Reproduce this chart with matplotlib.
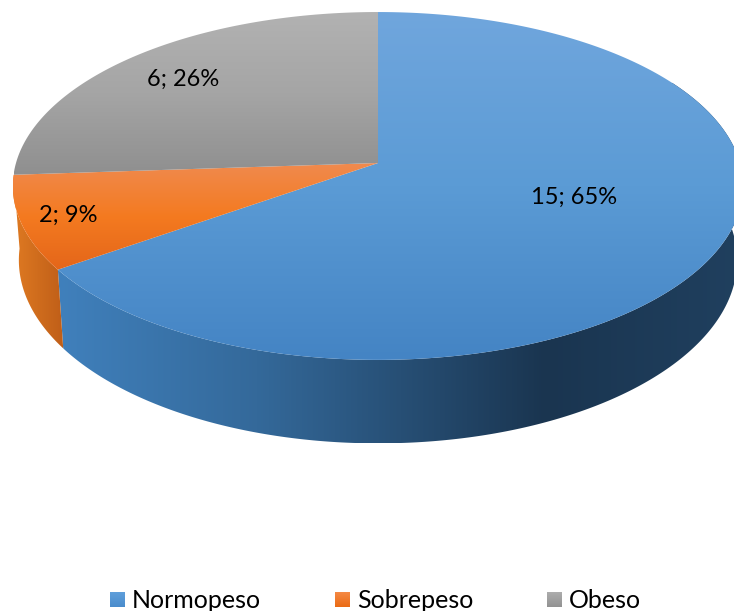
import numpy as np
import matplotlib
matplotlib.use('Agg')
import matplotlib.pyplot as plt
from matplotlib.colors import LinearSegmentedColormap
from matplotlib.patches import Polygon

plt.rcParams['font.family'] = ['Lato', 'DejaVu Sans']

# data
categories = ['Normopeso', 'Sobrepeso', 'Obeso']
values = [15, 2, 6]

# gradients: (top face, side wall)
top_colors = [['#70a6dd', '#5b9bd5', '#4484c4'],
              ['#f08a4e', '#f47a20', '#e4661a'],
              ['#b2b2b2', '#a5a5a5', '#8f8f8f']]
wall_colors = [[(0, '#4080bc'), (0.29, '#34699a'), (0.71, '#1a3550'), (1, '#20405f')],
               [(0, '#df7a22'), (1, '#bf5e18')],
               [(0, '#8a8a8a'), (1, '#777777')]]
legend_colors = [['#5f9fdb', '#4a8ccc'], ['#f58a45', '#ea6a14'], ['#adadad', '#929292']]


# perspective of the pie, in pixels
def project(t, cy, f, a):
    p = 0.132
    u, v = np.sin(t), np.cos(t)
    d = 1 + p * v
    return 378 + a * u / d, cy - f * v / d


def fill_gradient(ax, poly, colors, horizontal=False, zorder=1):
    cmap = LinearSegmentedColormap.from_list('g', colors)
    x0, y0 = poly.min(axis=0)
    x1, y1 = poly.max(axis=0)
    g = np.linspace(0, 1, 256)
    g = g[None, :] if horizontal else g[:, None]
    im = ax.imshow(g, cmap=cmap, vmin=0, vmax=1, extent=(x0, x1, y1, y0),
                   origin='upper', aspect='auto', interpolation='bilinear', zorder=zorder)
    patch = Polygon(poly, closed=True, transform=ax.transData, fc='none', ec='none')
    ax.add_patch(patch)
    im.set_clip_path(patch)


fig = plt.figure(figsize=(7.34, 6.11), dpi=100)
ax = fig.add_axes([0, 0, 1, 1])

shares = np.array(values) / sum(values)
edges = np.concatenate([[0], np.cumsum(shares)]) * 2 * np.pi

for i in range(len(values)):
    t0, t1 = edges[i], edges[i + 1]

    # side wall, only the part that faces the viewer
    a0, a1 = max(t0, np.radians(60)), min(t1, np.radians(266))
    if a1 > a0:
        t = np.linspace(a0, a1, 300)
        xt, yt = project(t, 163, 170.9, 362)
        xb, yb = project(t, 236, 180, 356)
        wall = np.column_stack([np.r_[xt, xb[::-1]], np.r_[yt, yb[::-1]]])
        fill_gradient(ax, wall, wall_colors[i], horizontal=True, zorder=1)

    # top face
    t = np.linspace(t0, t1, 300)
    x, y = project(t, 163, 170.9, 362)
    face = np.column_stack([np.r_[378, x], np.r_[163, y]])
    fill_gradient(ax, face, top_colors[i], zorder=2)

# data labels
label_pos = [(574, 197), (68, 215), (183, 79)]
for v, s, (lx, ly) in zip(values, shares, label_pos):
    ax.text(lx, ly, f'{v}; {s * 100:.0f}%', ha='center', va='center', fontsize=17,
            color='black', zorder=5)

# legend
swatch_x = [110, 335, 547]
for name, sx, c in zip(categories, swatch_x, legend_colors):
    sq = np.array([[sx, 592], [sx + 15, 592], [sx + 15, 607], [sx, 607]])
    fill_gradient(ax, sq, c, zorder=3)
    ax.text(sx + 22, 600, name, ha='left', va='center', fontsize=18, color='black', zorder=5)

ax.set_xlim(0, 734)
ax.set_ylim(611, 0)
ax.axis('off')

fig.savefig('out.png', dpi=100)
